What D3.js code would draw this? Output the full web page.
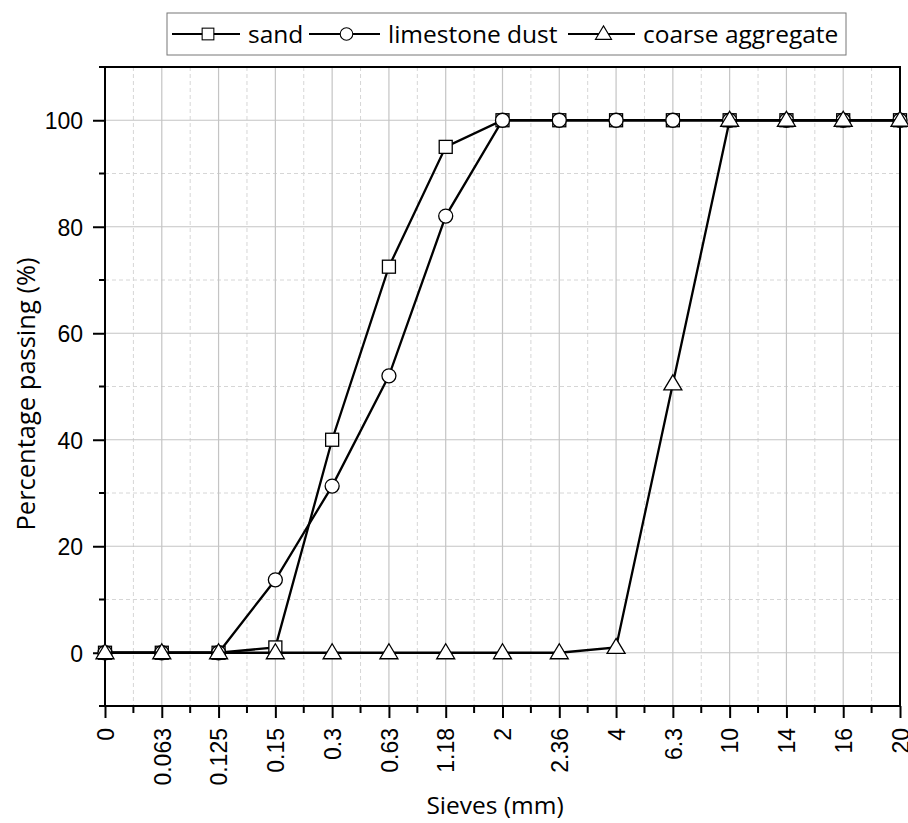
<!DOCTYPE html>
<html><head><meta charset="utf-8">
<script src="https://cdn.jsdelivr.net/npm/d3@7"></script>
<style>body{margin:0;background:#fff}</style>
</head><body>
<script>
const categories = ["0","0.063","0.125","0.15","0.3","0.63","1.18","2","2.36","4","6.3","10","14","16","20"];
const sand = [0,0,0,1,40,72.5,95,100,100,100,100,100,100,100,100];
const limestoneDust = [0,0,0,13.7,31.3,52,82,100,100,100,100,100,100,100,100];
const coarseAggregate = [0,0,0,0,0,0,0,0,0,1,50.5,100,100,100,100];
const yTicks = [0,20,40,60,80,100];
const yMinor = [-10,10,30,50,70,90,110];
const seriesNames = ["sand","limestone dust","coarse aggregate"];
const seriesShapes = ["square","circle","triangle"];

const W=908,H=823;
const L=105,R=900,T=67,B=706;
const svg=d3.select("body").append("svg").attr("width",W).attr("height",H);
const x=d3.scalePoint().domain(categories).range([L,R]).padding(0);
const y=d3.scaleLinear().domain([-10,110]).range([B,T]);
const step=x.step();
const tickFont="Liberation Sans, Arial, sans-serif";
const titleFont="Open Sans, sans-serif";

const g=svg.append("g");
const xMinorPos=categories.slice(0,-1).map(c=>x(c)+step/2);
g.selectAll(".vgm").data(xMinorPos).join("line")
 .attr("x1",d=>d).attr("x2",d=>d).attr("y1",T).attr("y2",B)
 .attr("stroke","#d6d6d6").attr("stroke-width",1).attr("stroke-dasharray","4,3");
g.selectAll(".hgm").data(yMinor.filter(v=>v>-10&&v<110)).join("line")
 .attr("x1",L).attr("x2",R).attr("y1",d=>y(d)).attr("y2",d=>y(d))
 .attr("stroke","#d6d6d6").attr("stroke-width",1).attr("stroke-dasharray","4,3");
g.selectAll(".vg").data(categories.slice(1,-1)).join("line")
 .attr("x1",d=>x(d)).attr("x2",d=>x(d)).attr("y1",T).attr("y2",B)
 .attr("stroke","#c4c4c4").attr("stroke-width",1.2);
g.selectAll(".hg").data(yTicks).join("line")
 .attr("x1",L).attr("x2",R).attr("y1",d=>y(d)).attr("y2",d=>y(d))
 .attr("stroke","#c4c4c4").attr("stroke-width",1.2);

// axes
const xAxis=d3.axisBottom(x).tickSize(12);
const xa=svg.append("g").attr("transform",`translate(0,${B})`).call(xAxis);
xa.select(".domain").remove();
xa.selectAll(".tick line").attr("stroke","#000").attr("stroke-width",2);
xa.selectAll(".tick text").attr("transform","rotate(-90)").attr("text-anchor","end")
 .attr("x",-22).attr("y",0).attr("dy","0.36em")
 .attr("font-family",tickFont).attr("font-size",23).attr("fill","#000");
svg.append("g").selectAll("line").data(xMinorPos).join("line")
 .attr("x1",d=>d).attr("x2",d=>d).attr("y1",B).attr("y2",B+7).attr("stroke","#000").attr("stroke-width",2);

const yAxis=d3.axisLeft(y).tickValues(yTicks).tickSize(12).tickPadding(10);
const ya=svg.append("g").attr("transform",`translate(${L},0)`).call(yAxis);
ya.select(".domain").remove();
ya.selectAll(".tick line").attr("stroke","#000").attr("stroke-width",2);
ya.selectAll(".tick text").attr("font-family",tickFont).attr("font-size",23).attr("fill","#000").attr("dy","0.36em");
svg.append("g").selectAll("line").data(yMinor).join("line")
 .attr("x1",L-6).attr("x2",L).attr("y1",d=>y(d)).attr("y2",d=>y(d)).attr("stroke","#000").attr("stroke-width",2);

// frame
svg.append("rect").attr("x",L).attr("y",T).attr("width",R-L).attr("height",B-T)
 .attr("fill","none").attr("stroke","#000").attr("stroke-width",2);

// series
const allSeries=[sand,limestoneDust,coarseAggregate];
const line=d3.line().x((d,i)=>x(categories[i])).y(d=>y(d));
function marker(sel,shape,sw){
  let m;
  if(shape==="square") m=sel.append("rect").attr("x",-6.5).attr("y",-6.5).attr("width",13).attr("height",13);
  else if(shape==="circle") m=sel.append("circle").attr("r",7);
  else m=sel.append("path").attr("d","M0,-9L9,6L-9,6Z");
  m.attr("fill","#fff").attr("stroke","#000").attr("stroke-width",sw||1.3);
}
allSeries.forEach((s,k)=>{
  const sg=svg.append("g");
  sg.append("path").datum(s).attr("d",line).attr("fill","none").attr("stroke","#000").attr("stroke-width",2.3);
  s.forEach((v,i)=>{
    const m=sg.append("g").attr("transform",`translate(${x(categories[i])},${y(v)})`);
    marker(m,seriesShapes[k]);
  });
});

// axis titles
svg.append("text").attr("x",495).attr("y",814).attr("text-anchor","middle")
 .attr("font-family",titleFont).attr("font-size",24.5).text("Sieves (mm)");
svg.append("text").attr("transform",`translate(35,394) rotate(-90)`).attr("text-anchor","middle")
 .attr("font-family",titleFont).attr("font-size",25.5).text("Percentage passing (%)");

// legend
const lg=svg.append("g");
lg.append("rect").attr("x",167).attr("y",13).attr("width",679).attr("height",42)
 .attr("fill","#fff").attr("stroke","#777").attr("stroke-width",1);
const legendX=[172,309,568];
const lineLen=[68,71,67];
seriesNames.forEach((n,k)=>{
  const gx=legendX[k];
  const it=lg.append("g").attr("transform",`translate(${gx},34)`);
  it.append("line").attr("x1",0).attr("x2",lineLen[k]).attr("stroke","#000").attr("stroke-width",1.8);
  const m=it.append("g").attr("transform",`translate(${lineLen[k]/2+2},0) scale(0.9)`);
  marker(m,seriesShapes[k],1.2);
  it.append("text").attr("x",lineLen[k]+8).attr("y",0).attr("dy","0.35em")
   .attr("font-family",titleFont).attr("font-size",24.5).text(n);
});
</script>
</body></html>
